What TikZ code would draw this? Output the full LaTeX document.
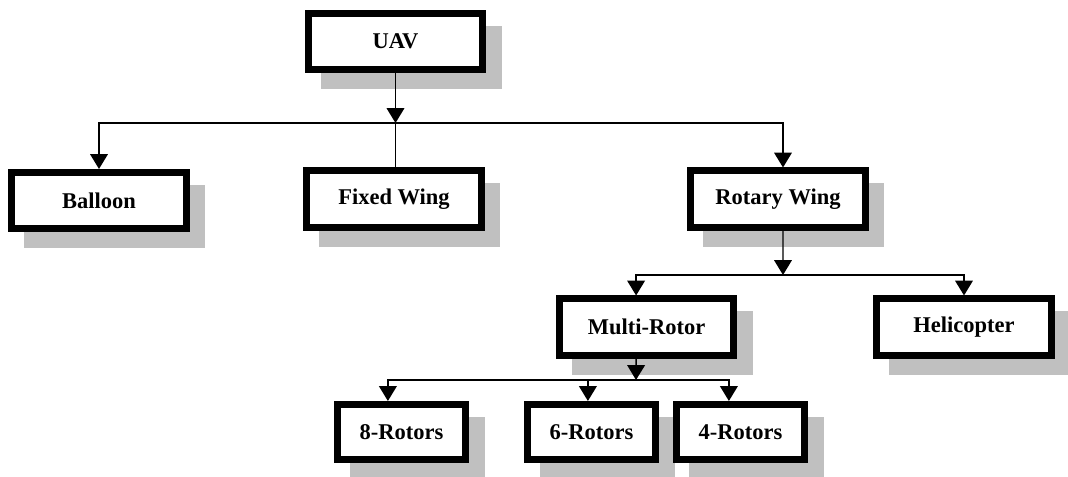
\documentclass[tikz,border=0pt]{standalone}
\usepackage{fontspec}
\setmainfont{Liberation Serif}
\usetikzlibrary{arrows.meta}
\definecolor{shadowgray}{RGB}{192,192,192}

\begin{document}
\begin{tikzpicture}[x=0.025cm, y=-0.025cm,
    box/.style={draw, fill=white, line width=0.175cm, inner sep=0pt,
        minimum width=4.35cm, minimum height=1.4cm,
        font=\fontsize{16}{19}\selectfont\bfseries,
        preaction={draw=shadowgray, fill=shadowgray,
            transform canvas={xshift=0.39cm, yshift=-0.4cm}}},
    small/.style={box, minimum width=3.2cm, minimum height=1.375cm},
    link/.style={line width=1pt},
    arr/.style={link, -{Triangle[width=0.44cm,length=0.37cm]}}]

    \useasboundingbox (0,0) rectangle (1068,477);

    \node[box] (uav) at (395.5,41.5) {UAV};
    \node[box] (bal) at (99,200.5) {Balloon};
    \node[box] (fix) at (394,199) {Fixed Wing};
    \node[box] (rot) at (778,199) {Rotary Wing};
    \node[box] (mr) at (646.5,327) {Multi-Rotor};
    \node[box] (heli) at (964,327) {Helicopter};
    \node[small] (r8) at (401.5,432) {8-Rotors};
    \node[small] (r6) at (591.5,432) {6-Rotors};
    \node[small] (r4) at (740.5,432) {4-Rotors};

    \coordinate (j1) at (395.5,123);
    \coordinate (j2) at (783,275);
    \coordinate (j3) at (636,380);

    \draw[arr] (uav.south) -- (j1);
    \draw[link] (j1) -- (j1 |- fix.north);
    \draw[arr] (j1) -| (bal.north);
    \draw[arr] (j1) -| ([xshift=0.125cm]rot.north);

    \draw[arr] ([xshift=0.125cm]rot.south) -- (j2);
    \draw[arr] (j2) -| ([xshift=-0.26cm]mr.north);
    \draw[arr] (j2) -| (heli.north);

    \draw[arr] ([xshift=-0.26cm]mr.south) -- (j3);
    \draw[arr] (j3) -| ([xshift=-0.34cm]r8.north);
    \draw[arr] (j3) -| ([xshift=-0.09cm]r6.north);
    \draw[arr] (j3) -| ([xshift=-0.29cm]r4.north);

\end{tikzpicture}
\end{document}
